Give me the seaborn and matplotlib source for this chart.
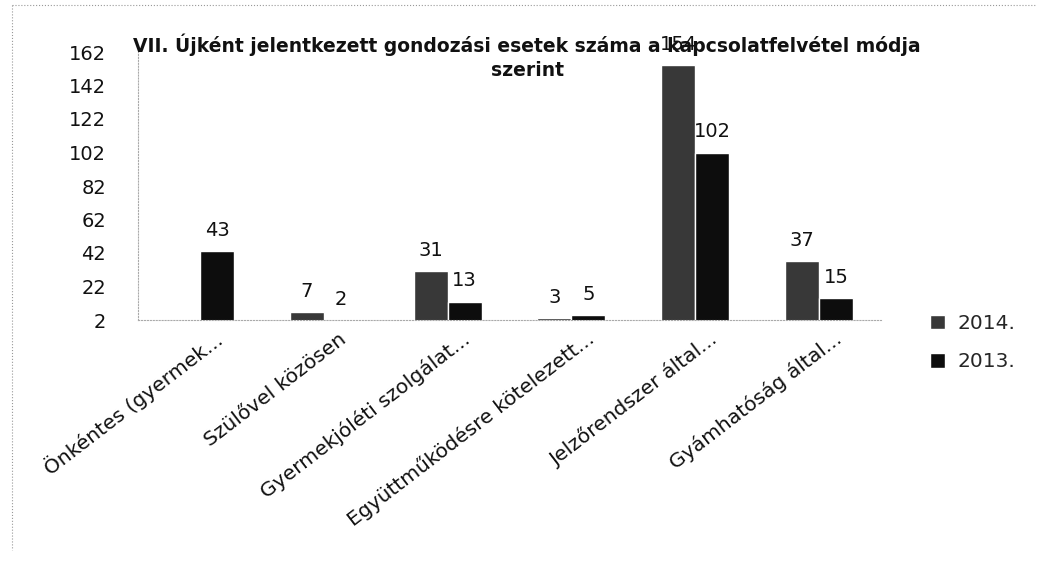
import numpy as np
import pandas as pd
import seaborn as sns
import matplotlib.pyplot as plt
from matplotlib.lines import Line2D
from matplotlib.transforms import ScaledTranslation

# Data
categories = ['Önkéntes (gyermek...', 'Szülővel közösen', 'Gyermekjóléti szolgálat...',
              'Együttműködésre kötelezett...', 'Jelzőrendszer által...', 'Gyámhatóság által...']
years = ['2014.', '2013.']
values_2014 = [np.nan, 7, 31, 3, 154, 37]
values_2013 = [43, 2, 13, 5, 102, 15]
y_ticks = list(range(2, 163, 20))

title = 'VII. Újként jelentkezett gondozási esetek száma a kapcsolatfelvétel módja\nszerint'

df = pd.DataFrame({
    'kategoria': categories * 2,
    'ev': [years[0]] * 6 + [years[1]] * 6,
    'ertek': values_2014 + values_2013,
})

sns.set_theme(style='white')
plt.rcParams['font.family'] = ['DejaVu Sans']

W, H = 1037, 568
fig = plt.figure(figsize=(W / 100, H / 100), dpi=100)
ax = fig.add_axes([138 / W, 1 - 320 / H, 743 / W, 268 / H])

sns.barplot(data=df, x='kategoria', y='ertek', hue='ev', hue_order=years,
            palette=['#383838', '#0d0d0d'], saturation=1, width=0.55,
            errorbar=None, ax=ax)

for cont in ax.containers:
    ax.bar_label(cont, fmt='%g', padding=8, fontsize=14, color='#111111')

ax.set_ylim(2, 162)
ax.set_yticks(y_ticks)
ax.set_xlim(-0.5, 5.5)
ax.set_xlabel('')
ax.set_ylabel('')
ax.tick_params(axis='both', length=0, labelsize=14, colors='#111111')
ax.tick_params(axis='x', labelsize=14.6)
ax.tick_params(axis='y', pad=23)

offset = ScaledTranslation(0.20, -0.12, fig.dpi_scale_trans)
for lab in ax.get_xticklabels():
    lab.set_rotation(37.5)
    lab.set_ha('right')
    lab.set_va('center')
    lab.set_rotation_mode('anchor')
    lab.set_transform(lab.get_transform() + offset)

for side in ['top', 'right']:
    ax.spines[side].set_visible(False)
for side in ['left', 'bottom']:
    ax.spines[side].set_linestyle(':')
    ax.spines[side].set_color('#aaaaaa')
    ax.spines[side].set_linewidth(0.8)

ax.legend(loc='upper left', bbox_to_anchor=(912 / W, 1 - 296 / H), bbox_transform=fig.transFigure,
          frameon=False, fontsize=14.5, handlelength=0.75, handleheight=0.75,
          handletextpad=0.6, labelspacing=0.95)

fig.text(527 / W, 1 - 34 / H, title, ha='center', va='top', fontsize=13.5,
         fontweight='bold', linespacing=1.32, color='#111111')

# faint frame lines from the scan
fig.add_artist(Line2D([12 / W, 1], [1 - 5 / H] * 2, transform=fig.transFigure,
                      ls=':', color='#999999', lw=0.8))
fig.add_artist(Line2D([12 / W] * 2, [1 - 5 / H, 1 - 550 / H], transform=fig.transFigure,
                      ls=':', color='#999999', lw=0.8))

fig.savefig('out.png', dpi=100)
